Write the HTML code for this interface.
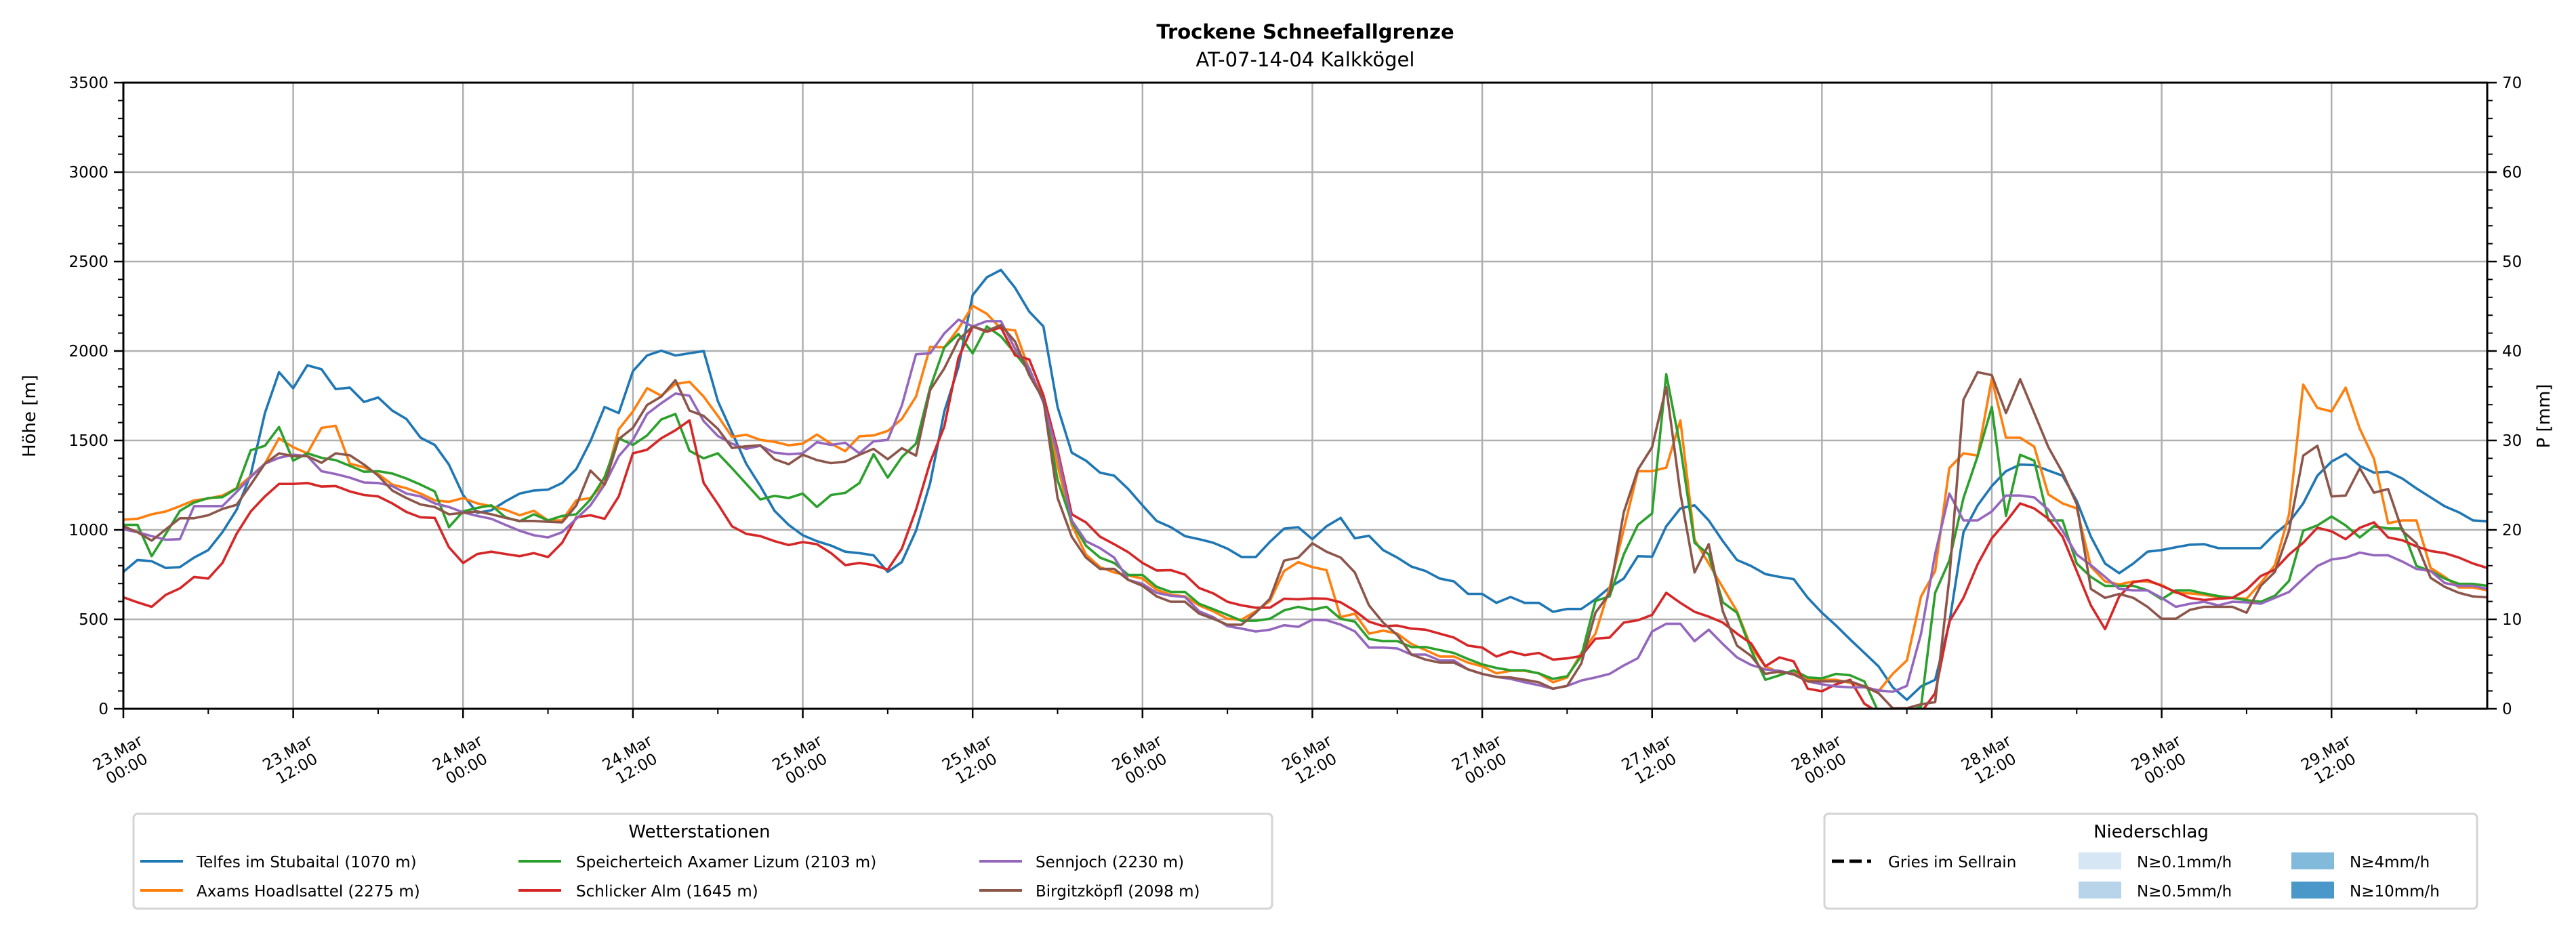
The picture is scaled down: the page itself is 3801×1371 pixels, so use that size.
<!DOCTYPE html>
<html><head><meta charset="utf-8">
<style>
html,body{margin:0;padding:0;background:#fff;}
svg{display:block;font-family:"DejaVu Sans","Liberation Sans",sans-serif;}
</style></head>
<body>
<svg id="chart" width="3801" height="1371" viewBox="0 0 3801 1371" xmlns="http://www.w3.org/2000/svg">
<rect width="3801" height="1371" fill="#fff"/>
<text x="1926" y="57" text-anchor="middle" font-size="29" font-weight="bold">Trockene Schneefallgrenze</text>
<text x="1926" y="98" text-anchor="middle" font-size="29">AT-07-14-04 Kalkkögel</text>
<defs><clipPath id="pc"><rect x="182" y="122" width="3488" height="924"/></clipPath></defs>
<g id="grid"></g>
<g id="series" clip-path="url(#pc)"></g>
<g id="axes"></g>
<text transform="translate(52,614) rotate(-90)" text-anchor="middle" font-size="26">Höhe [m]</text>
<text transform="translate(3762,614) rotate(-90)" text-anchor="middle" font-size="26">P [mm]</text>

<g>
<rect x="197" y="1201" width="1680" height="140" rx="6" fill="#fff" stroke="#d4d4d4" stroke-width="3"/>
<text x="1032" y="1236" text-anchor="middle" font-size="26">Wetterstationen</text>
<g><line x1="207" y1="1271" x2="270" y2="1271" stroke="#1f77b4" stroke-width="4"/><text x="290" y="1280" font-size="23">Telfes im Stubaital (1070 m)</text></g>
<g><line x1="207" y1="1314" x2="270" y2="1314" stroke="#ff7f0e" stroke-width="4"/><text x="290" y="1323" font-size="23">Axams Hoadlsattel (2275 m)</text></g>
<g><line x1="765" y1="1271" x2="828" y2="1271" stroke="#2ca02c" stroke-width="4"/><text x="850" y="1280" font-size="23">Speicherteich Axamer Lizum (2103 m)</text></g>
<g><line x1="765" y1="1314" x2="828" y2="1314" stroke="#d62728" stroke-width="4"/><text x="850" y="1323" font-size="23">Schlicker Alm (1645 m)</text></g>
<g><line x1="1445" y1="1271" x2="1508" y2="1271" stroke="#9467bd" stroke-width="4"/><text x="1528" y="1280" font-size="23">Sennjoch (2230 m)</text></g>
<g><line x1="1445" y1="1314" x2="1508" y2="1314" stroke="#8c564b" stroke-width="4"/><text x="1528" y="1323" font-size="23">Birgitzköpfl (2098 m)</text></g>
</g>

<g>
<rect x="2692" y="1201" width="963" height="140" rx="6" fill="#fff" stroke="#d4d4d4" stroke-width="3"/>
<text x="3174" y="1236" text-anchor="middle" font-size="26">Niederschlag</text>
<g><line x1="2703" y1="1271" x2="2761" y2="1271" stroke="#000" stroke-width="5" stroke-dasharray="18,8"/><text x="2786" y="1280" font-size="23">Gries im Sellrain</text></g>
<g><rect x="3067" y="1258" width="63" height="25" fill="#d6e6f4"/><text x="3153" y="1280" font-size="23">N≥0.1mm/h</text></g>
<g><rect x="3067" y="1301" width="63" height="25" fill="#b7d4ea"/><text x="3153" y="1323" font-size="23">N≥0.5mm/h</text></g>
<g><rect x="3381" y="1258" width="63" height="25" fill="#82badb"/><text x="3467" y="1280" font-size="23">N≥4mm/h</text></g>
<g><rect x="3381" y="1301" width="63" height="25" fill="#4a98c9"/><text x="3467" y="1323" font-size="23">N≥10mm/h</text></g>
</g>
</svg>
<script>
const telfes=[765,832,825,787,792,845,887,987,1112,1310,1653,1882,1792,1920,1898,1787,1795,1715,1740,1667,1620,1515,1475,1365,1195,1095,1110,1160,1203,
1220,1225,1262,1340,1495,1687,1653,1887,1975,2002,1975,1987,2000,1720,1545,1370,1245,1107,1028,970,937,912,878,870,858,765,820,995,
1262,1662,1912,2312,2412,2453,2353,2220,2137,1687,1432,1387,1320,1303,1228,1137,1050,1015,965,948,928,895,848,848,933,1007,1015,948,
1020,1067,953,967,887,845,795,770,728,712,642,642,592,625,592,592,542,558,558,612,678,728,853,850,1020,1120,1137,1053,
937,832,798,753,737,725,620,537,465,387,312,237,120,50,125,162,478,987,1137,1245,1328,1365,1362,1332,1303,1162,962,812,758,
812,878,887,903,917,920,898,898,898,898,978,1042,1148,1303,1382,1425,1358,1320,1325,1287,1232,1182,1132,1098,1053,1048];
const axams=[1057,1062,1087,1103,1133,1165,1175,1192,1233,1300,1370,1512,1462,1428,1570,1582,1370,1350,1312,1253,1233,1203,1165,1157,1178,1148,1132,1112,1082,
1107,1053,1053,1165,1178,1262,1562,1662,1792,1750,1815,1828,1745,1637,1520,1532,1503,1492,1473,1482,1533,1482,1440,1523,1528,1553,1620,1745,
2023,2020,2125,2253,2208,2125,2115,1895,1728,1362,1028,862,792,762,745,728,665,637,628,578,545,503,498,545,603,770,820,792,
775,512,532,420,437,420,362,328,292,292,258,237,198,212,212,198,148,175,312,420,678,1003,1328,1328,1348,1612,945,812,
678,545,345,237,203,207,162,162,162,145,125,98,195,270,628,770,1345,1428,1415,1845,1515,1515,1465,1198,1148,1120,795,712,695,
712,712,692,648,645,637,625,620,615,703,803,1087,1812,1682,1662,1795,1565,1398,1037,1053,1053,787,737,678,678,662];
const speicherteich=[1028,1028,853,978,1107,1153,1178,1183,1232,1445,1470,1575,1387,1428,1403,1390,1358,1325,1328,1315,1287,1253,1215,1015,1103,1123,1137,1070,1048,
1087,1053,1078,1087,1170,1295,1512,1475,1528,1617,1648,1442,1400,1428,1345,1258,1170,1190,1178,1203,1128,1195,1207,1262,1423,1292,1407,1482,
1795,2020,2095,1987,2137,2082,1987,1887,1728,1278,1045,912,845,815,748,748,682,653,653,587,557,525,492,492,503,550,570,553,
570,503,487,390,378,378,345,345,328,312,278,248,228,215,215,198,167,182,295,603,628,862,1028,1092,1870,1462,928,862,
595,537,328,162,187,215,175,170,195,187,153,-20,-20,-20,12,648,828,1178,1412,1687,1078,1420,1387,1053,1053,812,737,687,687,
687,662,612,662,662,645,630,620,607,598,632,715,995,1025,1075,1025,958,1020,1008,1008,798,770,728,698,698,687];
const schlicker=[623,595,570,637,673,737,728,815,978,1103,1187,1257,1257,1262,1242,1245,1215,1195,1187,1148,1100,1070,1067,903,815,865,878,865,853,
870,848,928,1070,1082,1062,1187,1428,1448,1512,1557,1612,1262,1145,1020,978,965,937,915,932,920,870,803,815,803,778,895,1112,
1378,1578,1962,2137,2108,2132,1975,1953,1753,1448,1087,1042,962,920,875,815,773,775,750,675,645,598,578,565,565,615,612,617,
615,595,548,487,462,465,448,442,420,398,353,342,292,320,300,312,275,282,295,392,398,482,495,525,648,592,542,515,
482,420,365,237,287,265,112,98,137,162,28,-20,-20,-20,-20,87,487,620,808,953,1045,1148,1120,1062,962,770,578,445,628,
708,720,687,653,620,608,615,620,665,742,778,862,928,1012,992,948,1012,1042,958,942,908,882,870,845,812,787];
const sennjoch=[1003,987,965,945,948,1133,1133,1133,1212,1295,1370,1403,1420,1412,1328,1312,1292,1265,1262,1245,1203,1187,1148,1128,1098,1078,1062,1028,995,
970,958,987,1062,1137,1253,1412,1503,1648,1708,1762,1750,1608,1525,1482,1453,1470,1432,1423,1428,1490,1475,1487,1428,1495,1503,1695,1982,
1987,2098,2175,2137,2167,2167,2012,1903,1712,1428,1053,937,898,845,720,698,648,632,625,545,512,462,448,432,442,467,458,498,
495,470,433,342,342,337,303,303,270,270,220,195,178,167,148,132,112,128,158,175,195,242,283,432,475,475,378,442,
362,287,245,220,212,195,153,137,125,120,120,103,95,128,420,865,1203,1053,1053,1103,1192,1192,1182,1112,995,862,803,737,670,
662,662,620,570,587,598,578,598,595,587,620,653,728,798,835,845,873,858,858,823,782,770,703,687,687,670];
const birgitz=[1020,987,940,1003,1065,1065,1082,1117,1140,1253,1370,1428,1412,1412,1375,1428,1417,1365,1303,1220,1178,1142,1128,1087,1095,1103,1087,1067,1050,
1050,1045,1042,1137,1332,1253,1508,1570,1698,1745,1837,1667,1637,1565,1458,1467,1473,1395,1367,1420,1390,1373,1382,1420,1453,1395,1457,1415,
1782,1903,2062,2137,2112,2145,2053,1865,1728,1178,962,845,782,782,720,687,628,598,598,532,503,470,470,537,615,828,845,925,
878,845,762,578,482,412,303,275,258,258,220,195,178,175,162,148,112,128,253,537,645,1098,1337,1462,1798,1203,762,920,
545,353,295,195,208,192,153,153,153,153,125,87,3,3,25,37,728,1728,1882,1865,1653,1842,1653,1462,1320,1145,670,620,642,
620,570,503,503,553,570,570,570,537,687,765,995,1415,1470,1187,1192,1345,1208,1228,995,925,732,682,648,628,623];
const xTickLabels=["23.Mar|00:00","23.Mar|12:00","24.Mar|00:00","24.Mar|12:00","25.Mar|00:00","25.Mar|12:00","26.Mar|00:00","26.Mar|12:00","27.Mar|00:00","27.Mar|12:00","28.Mar|00:00","28.Mar|12:00","29.Mar|00:00","29.Mar|12:00"];
const yTicks=[0,500,1000,1500,2000,2500,3000,3500];
const y2Ticks=[0,10,20,30,40,50,60,70];

const NS="http://www.w3.org/2000/svg";
const L=182,R=3670,T=122,B=1046,HMAX=167;
const xs=h=>L+h*(R-L)/HMAX;
const ys=v=>B-v*(B-T)/3500;
const ys2=v=>B-v*(B-T)/70;
function mk(tag,attrs,parent){const e=document.createElementNS(NS,tag);for(const k in attrs)e.setAttribute(k,attrs[k]);parent.appendChild(e);return e;}
const grid=document.getElementById('grid'),axes=document.getElementById('axes'),ser=document.getElementById('series');
yTicks.forEach(v=>{mk('line',{x1:L,x2:R,y1:ys(v),y2:ys(v),stroke:'#b0b0b0','stroke-width':2.5},grid);});
xTickLabels.forEach((s,i)=>{const x=xs(i*12);mk('line',{x1:x,x2:x,y1:T,y2:B,stroke:'#b0b0b0','stroke-width':2.5},grid);});
const cols=['#1f77b4','#ff7f0e','#2ca02c','#d62728','#9467bd','#8c564b'];
const names=['line-telfes','line-axams','line-speicherteich','line-schlicker','line-sennjoch','line-birgitzkoepfl'];
[telfes,axams,speicherteich,schlicker,sennjoch,birgitz].forEach((arr,k)=>{
  const d=arr.map((v,i)=>(i?'L':'M')+xs(i).toFixed(1)+','+ys(v).toFixed(1)).join(' ');
  const p=mk('path',{d:d,fill:'none',stroke:cols[k],'stroke-width':3.6,'stroke-linejoin':'round'},ser);
  
  
});
mk('rect',{x:L,y:T,width:R-L,height:B-T,fill:'none',stroke:'#000','stroke-width':3},axes);
for(let v=0;v<=3500;v+=100){const y=ys(v);const major=v%500===0;mk('line',{x1:L,x2:L-(major?14:8),y1:y,y2:y,stroke:'#000','stroke-width':major?2.5:2},axes);}
yTicks.forEach(v=>{const t=mk('text',{x:L-22,y:ys(v)+8,'text-anchor':'end','font-size':23},axes);t.textContent=v;
  
  });
for(let v=0;v<=70;v+=2){const y=ys2(v);const major=v%10===0;mk('line',{x1:R,x2:R+(major?14:8),y1:y,y2:y,stroke:'#000','stroke-width':major?2.5:2},axes);}
y2Ticks.forEach(v=>{const t=mk('text',{x:R+22,y:ys2(v)+8,'text-anchor':'start','font-size':23},axes);t.textContent=v;
  
  });
for(let h=0;h<=HMAX;h+=6){const x=xs(h);const major=h%12===0;mk('line',{x1:x,x2:x,y1:B,y2:B+(major?14:8),stroke:'#000','stroke-width':major?2.5:2},axes);}
xTickLabels.forEach((s,i)=>{const parts=s.split('|');const g=mk('g',{transform:'translate('+(xs(i*12)-2)+',1122) rotate(-30)'},axes);
  
  
  const a=mk('text',{x:0,y:-5,'text-anchor':'middle','font-size':23},g);a.textContent=parts[0];
  const b=mk('text',{x:0,y:22,'text-anchor':'middle','font-size':23},g);b.textContent=parts[1];});
</script>
</body></html>
